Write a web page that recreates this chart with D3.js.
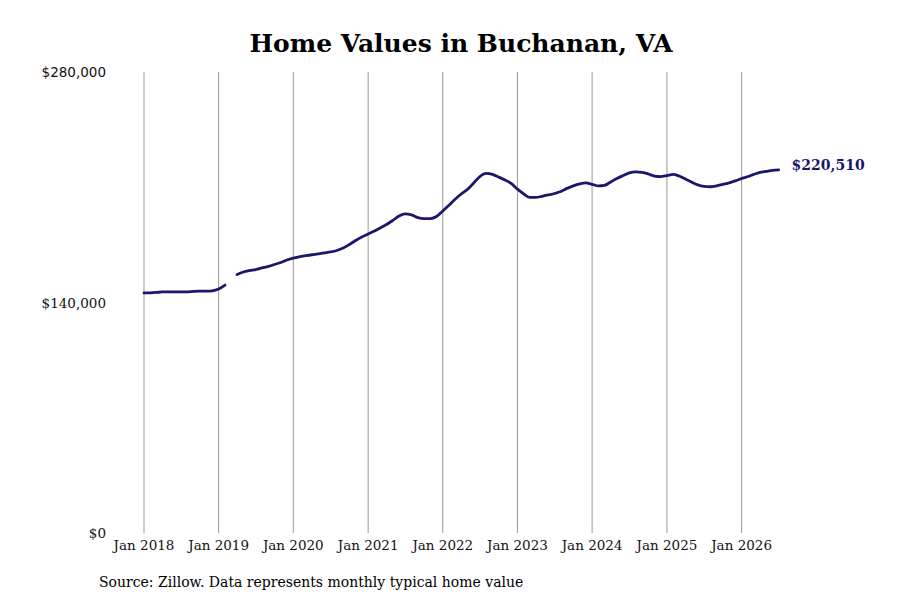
<!DOCTYPE html>
<html>
<head>
<meta charset="utf-8">
<script src="https://cdn.jsdelivr.net/npm/d3@7"></script>
<style>
  body { margin: 0; background: #fff; }
  text { font-family: "DejaVu Serif", serif; }
</style>
</head>
<body>
<div id="vis"></div>
<script>
// frame
const FRAME_WIDTH = 900;
const FRAME_HEIGHT = 600;
const MARGINS = {left: 144, right: 158, top: 72, bottom: 67};

// data: monthly typical home value, starting Jan 2018 (null = missing month)
const values = [
  145800, 145900, 146100, 146400, 146500, 146400, 146400, 146500, 146800, 146900, 146900, 147100, // 2018
  148200, 150600, null,   157000, 158500, 159400, 160000, 161000, 161900, 163100, 164300, 165800, // 2019
  167000, 167800, 168400, 169000, 169500, 170100, 170700, 171600, 173100, 175200, 177700, 179800, // 2020
  181600, 183400, 185300, 187400, 189800, 192500, 193800, 193200, 191600, 191000, 191000, 192200, // 2021
  195600, 199200, 202600, 205900, 208600, 212600, 216500, 218400, 217800, 216200, 214400, 212300, // 2022
  208900, 205900, 203900, 203800, 204500, 205300, 206200, 207400, 209300, 210800, 212000, 212600, // 2023
  211800, 210800, 211100, 213200, 215300, 217100, 218700, 219300, 219000, 218100, 216800, 216500, // 2024
  217100, 217800, 216800, 215000, 213200, 211400, 210500, 210300, 210900, 211800, 212700, 213900, // 2025
  215300, 216500, 217800, 219000, 219600, 220200, 220510                                          // 2026
];
const tickYears = [2018, 2019, 2020, 2021, 2022, 2023, 2024, 2025, 2026];
const yTicks = [0, 140000, 280000];

const data = values.map((v, i) => ({date: new Date(2018, i, 1), value: v}));
const last = data[data.length - 1];

const svg = d3.select("#vis")
  .append("svg")
    .attr("width", FRAME_WIDTH)
    .attr("height", FRAME_HEIGHT);

const X_SCALE = d3.scaleTime()
  .domain([new Date(2018, 0, 1), new Date(2026, 0, 1)])
  .range([MARGINS.left, 741.6]);

const Y_SCALE = d3.scaleLinear()
  .domain([0, 280000])
  .range([FRAME_HEIGHT - MARGINS.bottom, MARGINS.top]);

// vertical grid lines + year labels
const xTickDates = tickYears.map((y) => new Date(y, 0, 1));
svg.selectAll(".grid")
  .data(xTickDates)
  .enter()
  .append("line")
    .attr("x1", (d) => X_SCALE(d))
    .attr("x2", (d) => X_SCALE(d))
    .attr("y1", Y_SCALE(280000))
    .attr("y2", Y_SCALE(0))
    .attr("stroke", "#999")
    .attr("stroke-width", 1);

svg.selectAll(".xlab")
  .data(xTickDates)
  .enter()
  .append("text")
    .attr("x", (d) => X_SCALE(d))
    .attr("y", Y_SCALE(0) + 17)
    .attr("text-anchor", "middle")
    .attr("font-size", "13.5px")
    .attr("fill", "#111")
    .text((d) => "Jan " + d.getFullYear());

// y labels
svg.selectAll(".ylab")
  .data(yTicks)
  .enter()
  .append("text")
    .attr("x", 106)
    .attr("y", (d) => Y_SCALE(d) + 5)
    .attr("text-anchor", "end")
    .attr("font-size", "13.5px")
    .attr("fill", "#111")
    .style("font-family", (d) => d === 280000 ? "'DejaVu Sans', sans-serif" : null)
    .text((d) => "$" + d3.format(",")(d));

// the line
const line = d3.line()
  .defined((d) => d.value !== null)
  .x((d) => X_SCALE(d.date))
  .y((d) => Y_SCALE(d.value))
  .curve(d3.curveMonotoneX);

svg.append("path")
  .datum(data)
  .attr("d", line)
  .attr("fill", "none")
  .attr("stroke", "#1b176a")
  .attr("stroke-width", 2.8)
  .attr("stroke-linecap", "round");

// end label
svg.append("text")
  .attr("x", X_SCALE(last.date) + 13)
  .attr("y", Y_SCALE(last.value))
  .attr("font-size", "14px")
  .attr("font-weight", "bold")
  .attr("fill", "#1b176a")
  .text("$" + d3.format(",")(last.value));

// title
svg.append("text")
  .attr("x", 461)
  .attr("y", 52)
  .attr("text-anchor", "middle")
  .attr("font-size", "25px")
  .attr("font-weight", "bold")
  .attr("fill", "#000")
  .text("Home Values in Buchanan, VA");

// source
svg.append("text")
  .attr("x", 99)
  .attr("y", 587)
  .attr("font-size", "14px")
  .attr("fill", "#000")
  .text("Source: Zillow. Data represents monthly typical home value");
</script>
</body>
</html>
